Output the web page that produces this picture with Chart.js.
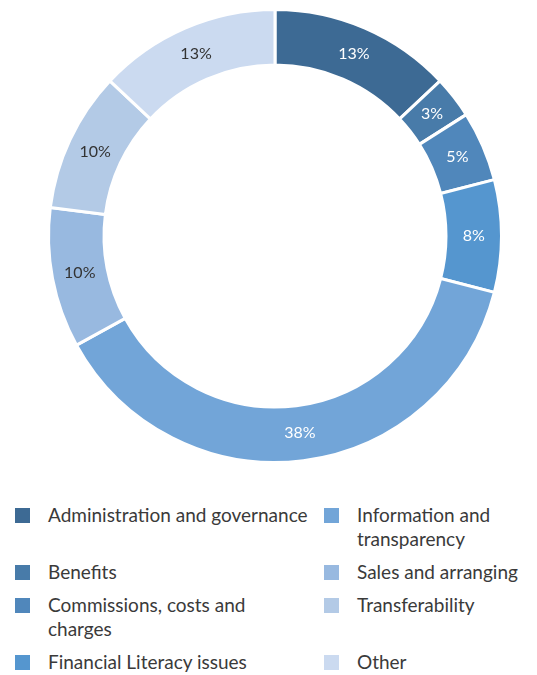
<!DOCTYPE html>
<html>
<head>
<meta charset="utf-8">
<script src="https://cdn.jsdelivr.net/npm/chart.js@4/dist/chart.umd.min.js"></script>
<style>
  body { margin: 0; background: #fff; font-family: Lato, "Open Sans", sans-serif; }
  .wrap { position: relative; width: 537px; height: 675px; }
  .chart-box { position: absolute; left: 0; top: 0; width: 537px; height: 472px; }
  .legend {
    position: absolute; left: 15px; top: 503px; width: 522px;
    display: grid; grid-template-columns: 309px 213px; row-gap: 9px;
    font-size: 19px; line-height: 24px; color: #3a3a3a;
  }
  .item { display: flex; align-items: flex-start; white-space: nowrap; }
  .sw { width: 15px; height: 15px; margin-top: 5px; margin-right: 18px; flex: none; }
</style>
</head>
<body>
<div class="wrap">
  <div class="chart-box"><canvas id="c"></canvas></div>
  <div class="legend" id="legend"></div>
</div>
<script>
// categories, clockwise from 12 o'clock
const categories = [
  "Administration and governance",
  "Benefits",
  ["Commissions, costs and", "charges"],
  "Financial Literacy issues",
  ["Information and", "transparency"],
  "Sales and arranging",
  "Transferability",
  "Other"
];
const shares = [13, 3, 5, 8, 38, 10, 10, 13];
const colors = ["#3d6a94", "#487ba9", "#5087bb", "#5596cf", "#72a5d8", "#98b9e0", "#b3cae6", "#cbdaf0"];
const labelColors = ["#ffffff", "#ffffff", "#ffffff", "#ffffff", "#ffffff", "#333333", "#333333", "#333333"];

//draw the % text in the middle of each ring piece
const sliceLabels = {
  id: "sliceLabels",
  afterDatasetsDraw(chart) {
    const ctx = chart.ctx;
    const meta = chart.getDatasetMeta(0);
    ctx.save();
    ctx.font = "16px Lato, sans-serif";
    ctx.textAlign = "center";
    ctx.textBaseline = "middle";
    meta.data.forEach((arc, i) => {
      const p = arc.tooltipPosition();
      ctx.fillStyle = labelColors[i];
      ctx.fillText(shares[i] + "%", p.x, p.y);
    });
    ctx.restore();
  }
};

new Chart(document.getElementById("c"), {
  type: "doughnut",
  data: {
    labels: categories,
    datasets: [{
      data: shares,
      backgroundColor: colors,
      borderColor: "#ffffff",
      borderWidth: 3
    }]
  },
  options: {
    responsive: true,
    maintainAspectRatio: false,
    animation: false,
    cutout: "75.5%",
    layout: { padding: { left: 47, right: 34, top: 8, bottom: 8 } },
    plugins: {
      legend: { display: false },
      tooltip: { enabled: false }
    }
  },
  plugins: [sliceLabels]
});

//html legend in two columns, filled column by column
const legend = document.getElementById("legend");
const half = Math.ceil(categories.length / 2);
for (let r = 0; r < half; r++) {
  [r, r + half].forEach(i => {
    const item = document.createElement("div");
    item.className = "item";
    const sw = document.createElement("span");
    sw.className = "sw";
    sw.style.background = colors[i];
    const txt = document.createElement("span");
    const lab = categories[i];
    txt.innerHTML = Array.isArray(lab) ? lab.join("<br>") : lab;
    item.appendChild(sw);
    item.appendChild(txt);
    legend.appendChild(item);
  });
}
</script>
</body>
</html>
